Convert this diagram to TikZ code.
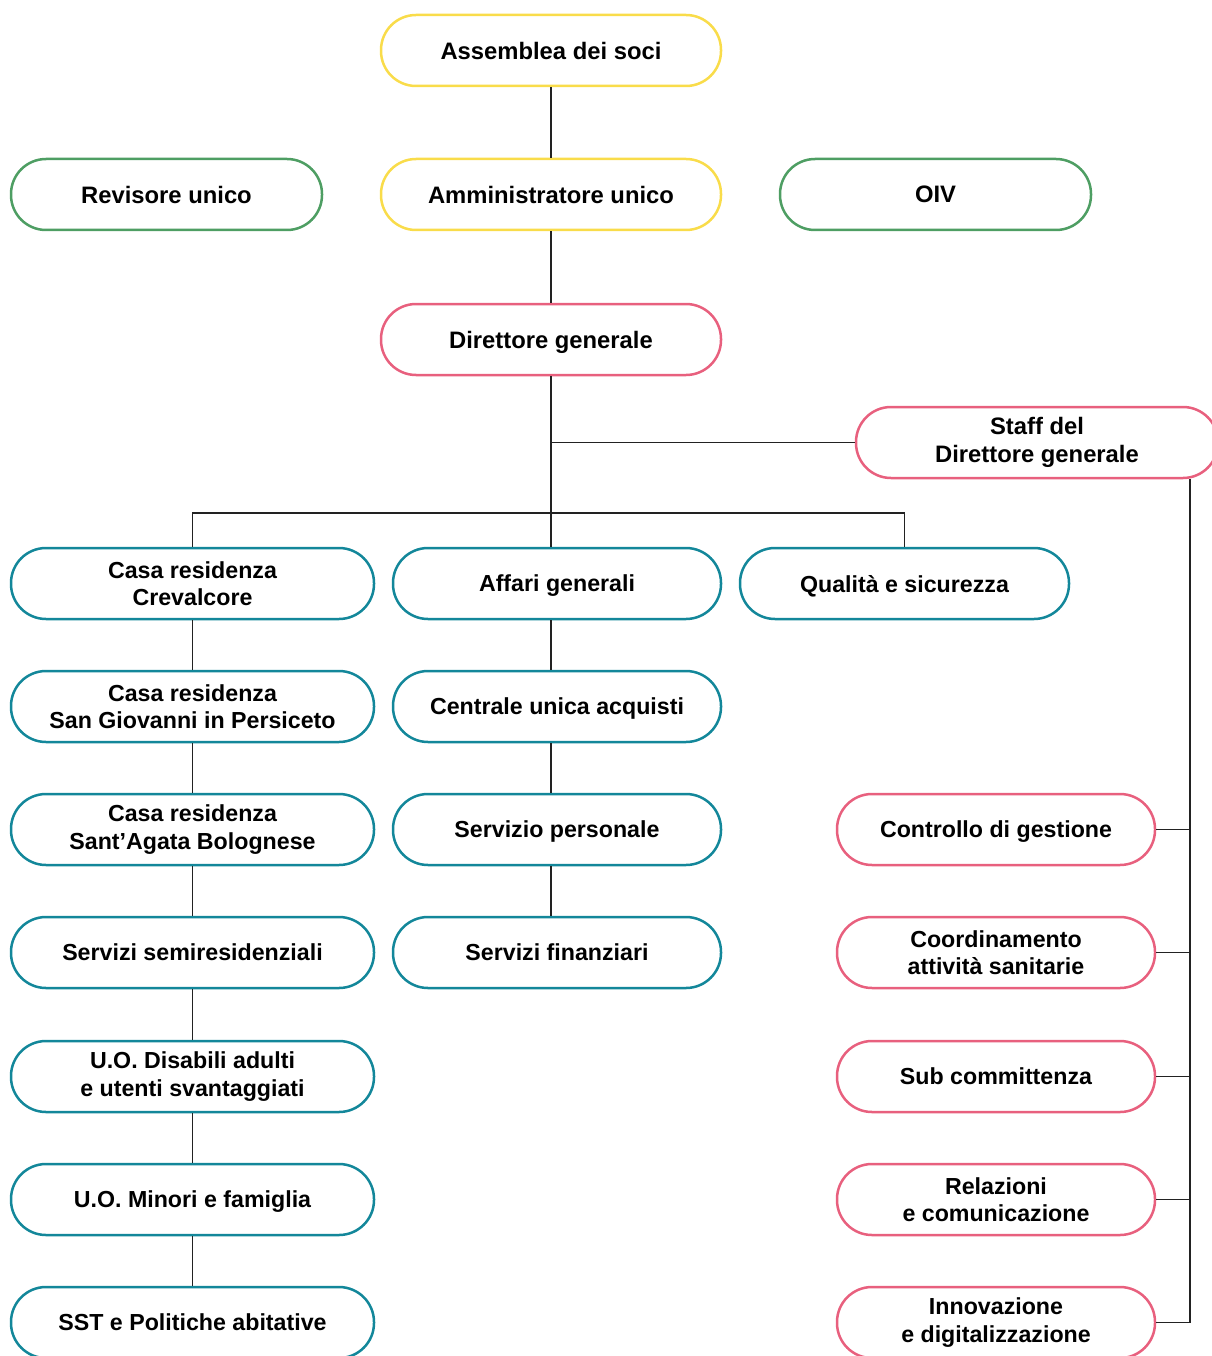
\documentclass[tikz,border=0pt]{standalone}
\usepackage{fontspec}
\setmainfont{Liberation Sans}
\definecolor{cyel}{HTML}{F9DC4A}
\definecolor{cgrn}{HTML}{4E9E63}
\definecolor{cpnk}{HTML}{E8607E}
\definecolor{ctel}{HTML}{13879A}
\definecolor{cline}{HTML}{222222}
\begin{document}
\begin{tikzpicture}[x=1pt,y=-1pt,
  box/.style={draw, line width=2.5pt, rounded corners=35pt, fill=white, align=center,
    inner sep=0pt, minimum height=71pt, text=black,
    font=\fontsize{23.2}{27.5}\selectfont\bfseries},
  topbox/.style={box, font=\fontsize{23.8}{27.5}\selectfont\bfseries},
  one/.style={text depth=0pt},
  wbig/.style={minimum width=340pt},
  wleft/.style={minimum width=363pt},
  wmid/.style={minimum width=328pt},
  wright/.style={minimum width=318pt},
  yel/.style={draw=cyel},
  grn/.style={draw=cgrn},
  pnk/.style={draw=cpnk},
  tel/.style={draw=ctel},
  conn/.style={draw=cline, line width=1.3pt}
]
\useasboundingbox (0,0) rectangle (1211,1356);

% top
\node[topbox, yel, wbig, one] (ass) at (551,50.5) {Assemblea dei soci};
\node[topbox, grn, minimum width=311pt, one] (rev) at (166.5,194.5) {Revisore unico};
\node[topbox, yel, wbig, one] (amm) at (551,194.5) {Amministratore unico};
\node[topbox, grn, minimum width=311pt, one] (oiv) at (935.5,194.5) {OIV};
\node[topbox, pnk, wbig, one] (dg) at (551,339.5) {Direttore generale};
\node[topbox, pnk, minimum width=362pt] (staff) at (1037,442.5) {Staff del\\Direttore generale};

% left column
\node[box, tel, wleft] (l1) at (192.5,583.5) {Casa residenza\\Crevalcore};
\node[box, tel, wleft] (l2) at (192.5,706.5) {Casa residenza\\San Giovanni in Persiceto};
\node[box, tel, wleft] (l3) at (192.5,829.5) {Casa residenza\\Sant'Agata Bolognese};
\node[box, tel, wleft, one] (l4) at (192.5,952.5) {Servizi semiresidenziali};
\node[box, tel, wleft] (l5) at (192.5,1076.5) {U.O. Disabili adulti\\e utenti svantaggiati};
\node[box, tel, wleft, one] (l6) at (192.5,1199.5) {U.O. Minori e famiglia};
\node[box, tel, wleft, one] (l7) at (192.5,1322.5) {SST e Politiche abitative};

% middle column
\node[box, tel, wmid, one] (m1) at (557,583.5) {Affari generali};
\node[box, tel, wmid, one] (m2) at (557,706.5) {Centrale unica acquisti};
\node[box, tel, wmid, one] (m3) at (557,829.5) {Servizio personale};
\node[box, tel, wmid, one] (m4) at (557,952.5) {Servizi finanziari};

\node[box, tel, minimum width=329pt, one] (q) at (904.5,583.5) {Qualità e sicurezza};

% right column
\node[box, pnk, wright, one] (r1) at (996,829.5) {Controllo di gestione};
\node[box, pnk, wright] (r2) at (996,952.5) {Coordinamento\\attività sanitarie};
\node[box, pnk, wright, one] (r3) at (996,1076.5) {Sub committenza};
\node[box, pnk, wright] (r4) at (996,1199.5) {Relazioni\\e comunicazione};
\node[box, pnk, wright] (r5) at (996,1322.5) {Innovazione\\e digitalizzazione};

% helper coordinates
\coordinate (bus) at (0,513);
\coordinate (sx) at (1190,0);

% connectors
\draw[conn] (ass.south) -- (amm.north);
\draw[conn] (amm.south) -- (dg.north);
\draw[conn] (dg.south) -- (dg.south |- m1.north);
\draw[conn] (dg.south |- staff.west) -- (staff.west);
\draw[conn] (l1.north) -- (l1.north |- bus) -| (q.north);

\draw[conn] (l1.south) -- (l2.north);
\draw[conn] (l2.south) -- (l3.north);
\draw[conn] (l3.south) -- (l4.north);
\draw[conn] (l4.south) -- (l5.north);
\draw[conn] (l5.south) -- (l6.north);
\draw[conn] (l6.south) -- (l7.north);

\draw[conn] (m1.south -| dg.south) -- (m2.north -| dg.south);
\draw[conn] (m2.south -| dg.south) -- (m3.north -| dg.south);
\draw[conn] (m3.south -| dg.south) -- (m4.north -| dg.south);

\draw[conn] (staff.south -| sx) -- (r5.east -| sx) -- (r5.east);
\draw[conn] (r1.east) -- (r1.east -| sx);
\draw[conn] (r2.east) -- (r2.east -| sx);
\draw[conn] (r3.east) -- (r3.east -| sx);
\draw[conn] (r4.east) -- (r4.east -| sx);
\end{tikzpicture}
\end{document}
